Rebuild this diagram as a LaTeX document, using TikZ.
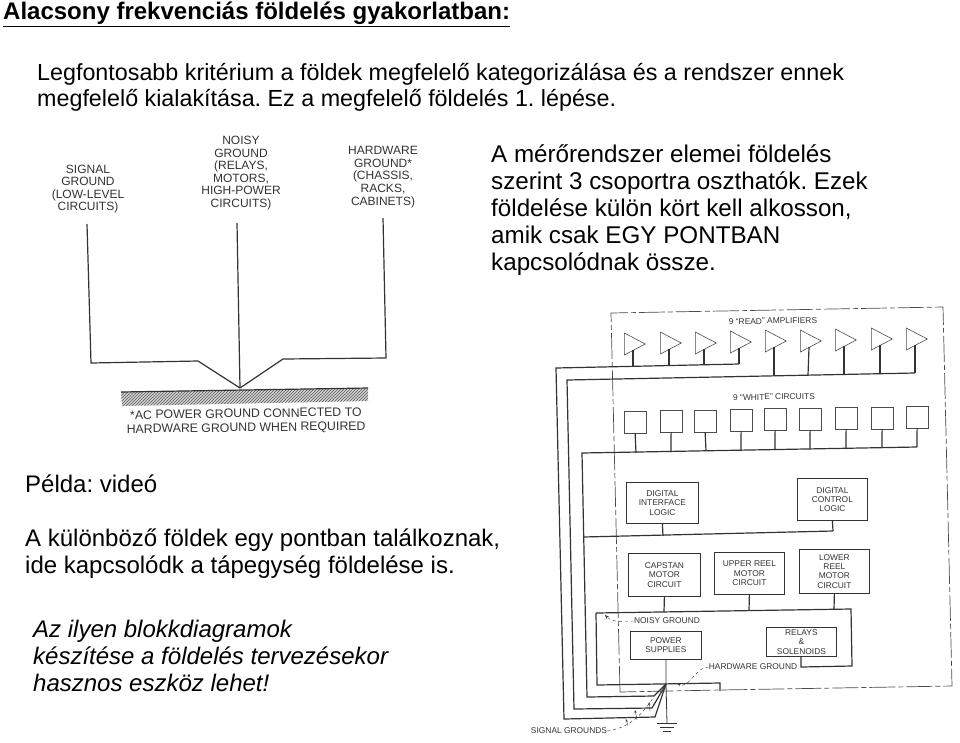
\documentclass[tikz,border=0pt]{standalone}
\usepackage{fontspec}
\setmainfont{Liberation Sans}
\usepackage{xcolor}
\usetikzlibrary{shapes.geometric,patterns,arrows.meta}
\definecolor{scanink}{gray}{0.2}
\frenchspacing
\tikzset{
  slide/.style={anchor=base west,align=left,inner sep=0pt,font=\fontsize{24}{27}\selectfont},
  wire/.style={line width=1.2pt,scanink},
  thinwire/.style={line width=0.8pt,scanink},
  scanlabel/.style={align=center,text=scanink,inner sep=0pt,font=\fontsize{12}{12.6}\selectfont},
  boxlabel/.style={align=center,text=scanink,inner sep=0pt,font=\fontsize{8.4}{9.3}\selectfont},
  blockbox/.style={draw=scanink,line width=0.8pt,anchor=north west,inner sep=0pt},
  ampbox/.style={isosceles triangle,isosceles triangle stretches,draw=black!70,line width=0.6pt,
    anchor=lower side,minimum width=22pt,minimum height=21pt,inner sep=0pt},
  wrbox/.style={draw=black!70,line width=0.7pt,minimum size=21.5pt,inner sep=0pt,anchor=north west},
  note/.style={dashed,thin,scanink,-{Stealth[length=4pt]}},
}
\begin{document}
\begin{tikzpicture}[x=1pt,y=-1pt]
\useasboundingbox (0,0) rectangle (960,742);
% texts of the slide
\node[anchor=base west,inner sep=0pt,font=\fontsize{24}{27}\selectfont\bfseries] (title) at (3,19.5) {\underline{Alacsony frekvenciás földelés gyakorlatban:}};
\node[slide,font=\fontsize{23.3}{26}\selectfont] (intro) at (37,106) {Legfontosabb kritérium a földek megfelelő kategorizálása és a rendszer ennek\\megfelelő kialakítása. Ez a megfelelő földelés 1. lépése.};
\node[slide,font=\fontsize{24.2}{27}\selectfont] (groups) at (491,270) {A mérőrendszer elemei földelés\\szerint 3 csoportra oszthatók. Ezek\\földelése külön kört kell alkosson,\\amik csak EGY PONTBAN\\kapcsolódnak össze.};
\node[slide] (video) at (25,492) {Példa: videó};
\node[slide] (meet) at (25,573) {A különböző földek egy pontban találkoznak,\\ide kapcsolódk a tápegység földelése is.};
\node[slide,font=\fontsize{24}{27}\selectfont\itshape] (tool) at (33,691) {Az ilyen blokkdiagramok\\készítése a földelés tervezésekor\\hasznos eszköz lehet!};
% left figure
\node[scanlabel] (sig) at (88,189) {SIGNAL\\GROUND\\(LOW-LEVEL\\CIRCUITS)};
\node[scanlabel] (noi) at (241,173) {NOISY\\GROUND\\(RELAYS,\\MOTORS,\\HIGH-POWER\\CIRCUITS)};
\node[scanlabel] (hwd) at (383,177) {HARDWARE\\GROUND*\\(CHASSIS,\\RACKS,\\CABINETS)};
\node[scanlabel,rotate=0.8,font=\fontsize{12.3}{14}\selectfont] (acn) at (246,421.5) {*AC POWER GROUND CONNECTED TO\\HARDWARE GROUND WHEN REQUIRED};
\coordinate (star) at (240,388);
\fill[gray!35] (121,392) -- (368,388) -- (368,401) -- (122,406) -- cycle;
\fill[pattern=north east lines,pattern color=black!65] (121,392) -- (368,388) -- (368,401) -- (122,406) -- cycle;
\draw[wire] (121,392) -- (368,388);
\draw[wire] (87,224) -- (91,363) -- (198,361) -- (star);
\draw[wire] (237,223) -- (star);
\draw[wire] (383,218) -- (386,358) -- (283,359) -- (star);
% frame of the machine
\draw[black!70,line width=0.7pt,dash pattern=on 26pt off 3pt on 5pt off 3pt] (620,692) -- (611,313) -- (943,307) -- (952,686) -- (720,690) -- cycle;
\node[boxlabel,rotate=0.5] (readlbl) at (773,321) {9 ``READ'' AMPLIFIERS};
\node[boxlabel,rotate=0.5] (writelbl) at (774,397) {9 ``WHITE'' CIRCUITS};
% read amplifiers and write circuits
\foreach \i/\ax/\ay/\sx/\by in {1/624/344/633/367,2/660/343/669/366,3/695/343/704/365,4/730/342/739/364,5/765/341/774/376,6/800/341/808/375,7/835/340/844/374,8/871/339/880/374,9/906/339/915/373}
  {\node[ampbox] (amp\i) at (\ax,\ay) {};
   \draw[wire] ([xshift=9pt,yshift=-6pt]amp\i.lower side) -- (\sx,\by);}
\foreach \i/\wx/\wy/\sx/\by in {1/624/411/636/453,2/660/410/671/452,3/694/410/706/451,4/730/409/741/451,5/764/408/775/450,6/799/408/810/449,7/835/407/846/449,8/871/407/882/448,9/906/406/917/447}
  {\node[wrbox] (wr\i) at (\wx,\wy) {};
   \draw[wire] (wr\i.south) -- (\sx,\by);}
\coordinate (hub) at (666,684);
\draw[wire] (739,364) -- (556,368) -- (564,719) -- (655,717) -- (hub);
\draw[wire] (915,373) -- (567,380) -- (574,709) -- (652,708) -- (hub);
\draw[wire] (917,447) -- (582,453) -- (587,697) -- (654,696) -- (hub);
% logic and motor blocks
\node[blockbox,minimum width=72pt,minimum height=41pt] (dil) at (626,482) {};
\node[boxlabel] at (dil) {DIGITAL\\INTERFACE\\LOGIC};
\node[blockbox,minimum width=70pt,minimum height=42pt] (dcl) at (797,478) {};
\node[boxlabel] at (dcl) {DIGITAL\\CONTROL\\LOGIC};
\node[blockbox,minimum width=72pt,minimum height=43pt] (cap) at (628,553) {};
\node[boxlabel] at (cap) {CAPSTAN\\MOTOR\\CIRCUIT};
\node[blockbox,minimum width=70pt,minimum height=42pt] (upr) at (714,552) {};
\node[boxlabel] at (upr) {UPPER REEL\\MOTOR\\CIRCUIT};
\node[blockbox,minimum width=70pt,minimum height=44pt] (lwr) at (799,549) {};
\node[boxlabel] at (lwr) {LOWER\\REEL\\MOTOR\\CIRCUIT};
\node[blockbox,minimum width=71pt,minimum height=28pt] (pow) at (630,631) {};
\node[boxlabel] at (pow) {POWER\\SUPPLIES};
\node[blockbox,minimum width=70pt,minimum height=29pt] (rel) at (766,627) {};
\node[boxlabel] at (rel) {RELAYS\\\&\\SOLENOIDS};
\coordinate (relg) at (801,656);
\draw[wire] (583,537) -- (833,531);
\draw[wire] (dil.south) -- (663,536);
\draw[wire] (dcl.south) -- (833,531);
\draw[wire] (596,613) -- (851,609) -- (852,666) -- (801,667) -- (relg);
\draw[wire] (cap.south) -- (664,612);
\draw[wire] (upr.south) -- (749,610);
\draw[wire] (lwr.south) -- (834,609);
\draw[wire] (596,613) -- (597,685) -- (720,683) -- (720,691);
\draw[thinwire] (pow.south) -- (hub);
% ground symbol
\coordinate (gnd) at (667,723);
\draw[thinwire] (hub) -- (gnd);
\draw[thinwire] (657,723) -- (677,723);
\draw[thinwire] (660,727) -- (674,727);
\draw[thinwire] (663,731) -- (671,731);
% notes with dashed arrows
\node[boxlabel] (ngl) at (667,621) {NOISY GROUND};
\node[boxlabel] (hgl) at (753,667) {HARDWARE GROUND};
\node[boxlabel] (sgl) at (569,731) {SIGNAL GROUNDS};
\draw[note] (ngl.west) to[out=180,in=-45] (605,615);
\draw[note] (hgl.west) to[out=180,in=-30] (677,683);
\draw[dashed,thin,scanink] (sgl.east) .. controls (627,728) and (640,718) .. (653,698);
\foreach \fx/\fy/\tx/\ty in {628/726/626/719,637/720/635/710,650/711/649/702}
  \draw[-{Stealth[length=3pt]},thin,scanink] (\fx,\fy) -- (\tx,\ty);
\end{tikzpicture}
\end{document}
